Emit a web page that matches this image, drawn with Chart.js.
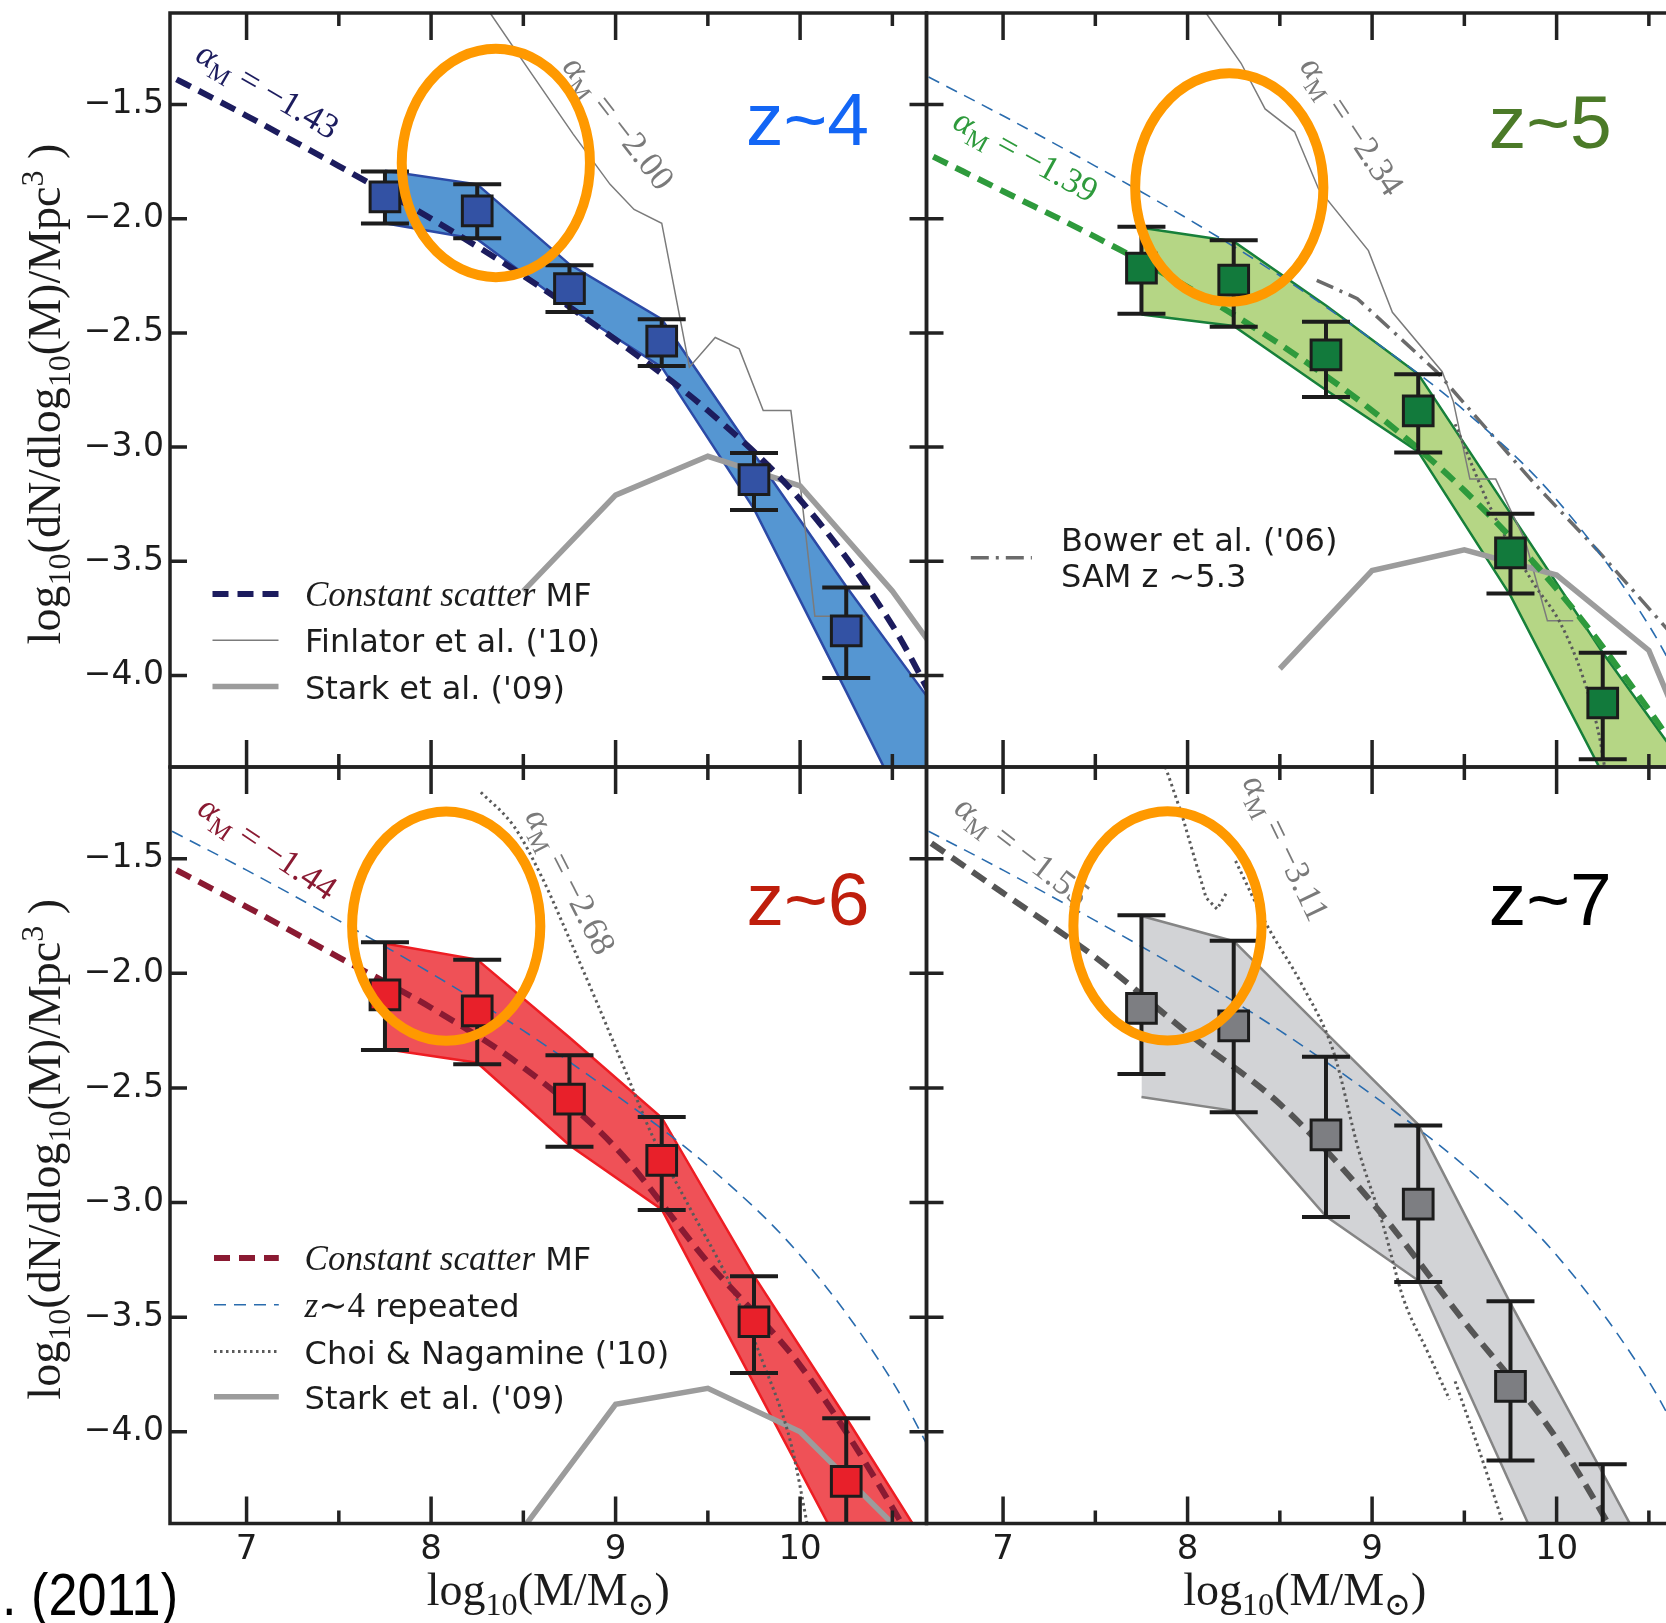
<!DOCTYPE html>
<html>
<head>
<meta charset="utf-8">
<title>Stellar mass functions z~4-7</title>
<script src="https://cdn.jsdelivr.net/npm/chart.js@4.4.1/dist/chart.umd.min.js"></script>
<style>
  html, body { margin: 0; padding: 0; background: #fff; width: 1666px; height: 1623px; overflow: hidden; }
  canvas { position: absolute; left: 0; top: 0; }
</style>
</head>
<body>
<canvas id="z4" width="1700" height="1623"></canvas>
<canvas id="z5" width="1700" height="1623"></canvas>
<canvas id="z6" width="1700" height="1623"></canvas>
<canvas id="z7" width="1700" height="1623"></canvas>
<script>
// values: log10(M/Msun) against log10 number density
const massBins = [7.75, 8.25, 8.75, 9.25, 9.75, 10.25];
const phiZ4 = [-1.905, -1.966, -2.306, -2.536, -3.142, -3.804];
const phiZ4Hi = [-1.794, -1.850, -2.204, -2.440, -3.026, -3.614];
const phiZ4Lo = [-2.021, -2.086, -2.409, -2.645, -3.275, -4.011];
const phiZ5 = [-2.217, -2.269, -2.596, -2.841, -3.463, -4.120];
const phiZ5Hi = [-2.035, -2.095, -2.451, -2.681, -3.292, -3.900];
const phiZ5Lo = [-2.416, -2.473, -2.781, -3.024, -3.641, -4.366];
const phiZ6 = [-2.094, -2.164, -2.549, -2.816, -3.520, -4.216];
const phiZ6Hi = [-1.865, -1.941, -2.357, -2.627, -3.321, -3.941];
const phiZ6Lo = [-2.334, -2.397, -2.757, -3.032, -3.744, -4.600];
const phiZ7 = [-2.153, -2.229, -2.705, -3.007, -3.802, -4.600];
const phiZ7Hi = [-1.747, -1.858, -2.364, -2.664, -3.430, -4.141];
const phiZ7Lo = [-2.439, -2.606, -3.063, -3.347, -4.125, -5.000];

// shaded ranges
const bandX = [7.75, 8.25, 8.75, 9.25, 9.75, 10.25, 10.75];
const bandZ4Hi = [-1.79, -1.85, -2.20, -2.44, -3.03, -3.61, -4.16];
const bandZ4Lo = [-2.02, -2.09, -2.39, -2.65, -3.27, -4.07, -4.88];
const bandZ5Hi = [-2.04, -2.10, -2.38, -2.68, -3.29, -3.90, -4.46];
const bandZ5Lo = [-2.42, -2.47, -2.75, -3.02, -3.65, -4.43, -5.19];
const bandZ6Hi = [-1.87, -1.94, -2.28, -2.63, -3.32, -3.94, -4.58];
const bandZ6Lo = [-2.33, -2.39, -2.75, -3.03, -3.79, -4.55, -5.31];
const bandZ7Hi = [-1.75, -1.86, -2.26, -2.66, -3.44, -4.18, -4.93];
const bandZ7Lo = [-2.54, -2.60, -3.06, -3.34, -4.23, -5.12, -6.00];

// constant scatter mass functions
const mfX = [6.5, 7.0, 7.5, 8.0, 8.5, 9.0, 9.5, 10.0, 10.5, 10.75];
const mfZ4 = [-1.34, -1.55, -1.77, -2.00, -2.25, -2.53, -2.84, -3.23, -3.78, -4.15];
const mfZ5 = [-1.68, -1.88, -2.08, -2.30, -2.55, -2.84, -3.19, -3.62, -4.15, -4.45];
const mfZ6 = [-1.50, -1.71, -1.93, -2.15, -2.41, -2.76, -3.26, -3.71, -4.33, -4.70];
const mfZ7 = [-1.37, -1.65, -1.93, -2.26, -2.57, -3.00, -3.52, -4.03, -4.72, -5.10];

// model curves
const starkX = [8.5, 9.0, 9.5, 10.0, 10.5, 11.0];
const starkZ4 = [-3.63, -3.21, -3.04, -3.17, -3.63, -4.19];
const starkZ5 = [-3.97, -3.54, -3.45, -3.56, -3.89, -4.85];
const starkZ6 = [-4.42, -3.88, -3.81, -4.00, -4.40, -4.80];
const finZ4X = [8.28, 8.32, 8.48, 8.77, 8.97, 9.10, 9.25, 9.40, 9.54, 9.67, 9.80, 9.95, 10.00, 10.08, 10.35];
const finZ4Y = [-1.05, -1.10, -1.29, -1.63, -1.85, -1.96, -2.02, -2.65, -2.52, -2.57, -2.84, -2.84, -3.16, -3.74, -3.74];
const finZ5X = [8.06, 8.10, 8.29, 8.42, 8.58, 8.71, 8.98, 9.11, 9.38, 9.44, 9.53, 9.67, 9.83, 9.95, 10.09];
const finZ5Y = [-1.05, -1.10, -1.32, -1.52, -1.62, -1.87, -2.14, -2.41, -2.67, -2.80, -3.14, -3.14, -3.41, -3.76, -3.76];
const choiZ5X = [9.45, 9.65, 9.87, 10.02, 10.14, 10.23, 10.27];
const choiZ5Y = [-2.90, -3.28, -3.59, -3.77, -4.00, -4.26, -4.45];
const choiZ6X = [8.27, 8.45, 8.60, 8.75, 8.90, 9.05, 9.20, 9.40, 9.60, 9.80, 9.95, 10.05];
const choiZ6Y = [-1.21, -1.36, -1.58, -1.85, -2.13, -2.42, -2.71, -3.02, -3.32, -3.70, -4.05, -4.45];
const choiZ7aX = [7.88, 7.97, 8.10, 8.16, 8.21];
const choiZ7aY = [-1.10, -1.31, -1.67, -1.72, -1.65];
const choiZ7bX = [8.26, 8.43, 8.62, 8.79, 8.93, 9.06, 9.17, 9.30, 9.42];
const choiZ7bY = [-1.51, -1.79, -2.05, -2.34, -2.78, -3.10, -3.42, -3.65, -3.86];
const choiZ7cX = [9.45, 9.58, 9.71, 9.76];
const choiZ7cY = [-3.78, -4.08, -4.40, -4.52];
const bowerX = [8.70, 8.92, 9.35, 9.88, 10.22, 10.80];
const bowerY = [-2.27, -2.35, -2.67, -3.16, -3.45, -3.98];

// highlighted regions (centre x, centre y) and half-axes in data units
const ringZ4 = [8.351, -1.756];
const ringZ5 = [8.226, -1.864];
const ringZ6 = [8.082, -1.794];
const ringZ7 = [7.891, -1.793];
const ringSize = [0.51, 0.50];

const xTicks = [7, 7.5, 8, 8.5, 9, 9.5, 10, 10.5];
const yTicks = [-4, -3.5, -3, -2.5, -2, -1.5];

const W = 1700, H = 1623;
const X_MIN = 6.585, X_MAX = 10.685, Y_MIN = -4.4, Y_MAX = -1.1;
const SERIF = '"Liberation Serif", "DejaVu Serif", serif';
const SANS = '"DejaVu Sans", sans-serif';
const HELV = '"Liberation Sans", Arial, sans-serif';
const INK = '#1c1c1c';
const GRAYTXT = '#7a7a7a';

function pts(xs, ys) {
  return xs.map((x, i) => ({ x: x, y: ys[i] }));
}

function lineDs(xs, ys, color, width, dash, order, smooth) {
  return {
    data: pts(xs, ys), borderColor: color, borderWidth: width, borderDash: dash || [],
    pointRadius: 0, fill: false, tension: 0, clip: 0, order: order,
    cubicInterpolationMode: smooth ? 'monotone' : 'default', borderCapStyle: 'butt'
  };
}

function bandDs(ys, edge, fillColor, isUpper) {
  return {
    data: pts(bandX, ys), borderColor: edge, borderWidth: 2.5, pointRadius: 0,
    fill: isUpper ? '+1' : false, backgroundColor: fillColor, tension: 0, clip: 0, order: 20
  };
}

function pointDs(ys, hi, lo, color) {
  return {
    data: pts(massBins, ys), showLine: false, pointStyle: 'rect', pointRadius: 21,
    pointBackgroundColor: color, pointBorderColor: INK, pointBorderWidth: 3,
    clip: 0, order: 0, errHi: hi, errLo: lo
  };
}

// text made of runs (plain / italic / sub / sup)
function run(t, size, opt) {
  opt = opt || {};
  let s = size, dy = 0;
  if (opt.sub) { s = size * 0.7; dy = size * 0.22; }
  if (opt.sup) { s = size * 0.7; dy = -size * 0.38; }
  return { t: t, font: (opt.italic ? 'italic ' : '') + s + 'px ' + (opt.fam || SERIF), dy: dy, color: opt.color || INK };
}

function drawRuns(ctx, runs, x, y, angle, base, align) {
  ctx.save();
  ctx.translate(x, y);
  if (angle) ctx.rotate(angle * Math.PI / 180);
  ctx.textAlign = 'left';
  ctx.textBaseline = 'alphabetic';
  let total = 0;
  runs.forEach(r => { ctx.font = r.font; r.w = ctx.measureText(r.t).width; total += r.w; });
  let cx = align === 'center' ? -total / 2 : 0;
  runs.forEach(r => {
    ctx.font = r.font;
    ctx.fillStyle = r.color;
    ctx.fillText(r.t, cx, (base || 0) + r.dy);
    cx += r.w;
  });
  ctx.restore();
}

function alphaRuns(value, color) {
  const s = 35;
  return [run('α', s, { italic: true, color: color }), run('M', s, { sub: true, color: color }), run(' = ' + value, s, { color: color })];
}

function sans(t) { return run(t, 32, { fam: SANS }); }

// ---- datasets per panel ----
const NAVY = '#1c1c5e', GREEN = '#2e9a3c', WINE = '#8a1a32', DGRAY = '#555555', BLUE4 = '#2a6cae';
const STARK = '#9c9c9c', FIN = '#7b7b7b', CHOI = '#5a5a5a', BOWER = '#6b6b6b';

const mf4 = lineDs(mfX, mfZ4, NAVY, 6, [16, 9], 5, true);
const fin4 = lineDs(finZ4X, finZ4Y, FIN, 1.5, [], 7);
const stark4 = lineDs(starkX, starkZ4, STARK, 5.5, [], 6);
const ds4 = [bandDs(bandZ4Hi, '#2c4aa6', '#5596d2', true), bandDs(bandZ4Lo, '#2c4aa6', '#5596d2', false),
  stark4, fin4, mf4, pointDs(phiZ4, phiZ4Hi, phiZ4Lo, '#3352a4')];

const bower5 = lineDs(bowerX, bowerY, BOWER, 3.5, [18, 7, 3, 7], 4);
const ds5 = [bandDs(bandZ5Hi, '#17803a', '#b5d685', true), bandDs(bandZ5Lo, '#17803a', '#b5d685', false),
  lineDs(starkX, starkZ5, STARK, 5.5, [], 7), lineDs(finZ5X, finZ5Y, FIN, 1.5, [], 8),
  lineDs(choiZ5X, choiZ5Y, CHOI, 3, [2.5, 3.5], 6, true), bower5,
  lineDs(mfX, mfZ4, BLUE4, 1.6, [12, 8], 3, true), lineDs(mfX, mfZ5, GREEN, 6, [16, 9], 2, true),
  pointDs(phiZ5, phiZ5Hi, phiZ5Lo, '#127a3c')];

const mf6 = lineDs(mfX, mfZ6, WINE, 6, [16, 9], 2, true);
const rep6 = lineDs(mfX, mfZ4, BLUE4, 1.6, [12, 8], 3, true);
const choi6 = lineDs(choiZ6X, choiZ6Y, CHOI, 3, [2.5, 3.5], 6, true);
const stark6 = lineDs(starkX, starkZ6, STARK, 5.5, [], 7);
const ds6 = [bandDs(bandZ6Hi, '#ee1d23', '#ef5157', true), bandDs(bandZ6Lo, '#ee1d23', '#ef5157', false),
  stark6, choi6, rep6, mf6, pointDs(phiZ6, phiZ6Hi, phiZ6Lo, '#e8202a')];

const ds7 = [bandDs(bandZ7Hi, '#858585', '#d2d3d6', true), bandDs(bandZ7Lo, '#858585', '#d2d3d6', false),
  lineDs(choiZ7aX, choiZ7aY, CHOI, 3, [2.5, 3.5], 6), lineDs(choiZ7bX, choiZ7bY, CHOI, 3, [2.5, 3.5], 6, true),
  lineDs(choiZ7cX, choiZ7cY, CHOI, 3, [2.5, 3.5], 6, true),
  lineDs(mfX, mfZ4, BLUE4, 1.6, [12, 8], 3, true), lineDs(mfX, mfZ7, DGRAY, 6, [16, 9], 2, true),
  pointDs(phiZ7, phiZ7Hi, phiZ7Lo, '#7d7e82')];

// ---- decorations per panel (texts, legend, ring, frame) ----
const decoById = {
  z4: {
    alphas: [{ x: 7.114, y: -1.439, angle: 30.4, text: '−1.43', color: NAVY },
             { x: 9.015, y: -1.581, angle: 52.2, text: '−2.00', color: GRAYTXT }],
    label: { text: 'z~4', x: 9.707, y: -1.679, color: '#1366f5' },
    legend: { x0: 42.5, x1: 108.5, tx: 135, rows: [
      { ds: mf4, y: 581, runs: [run('Constant scatter', 35, { italic: true }), sans(' MF')] },
      { ds: fin4, y: 627.3, runs: [sans("Finlator et al. ('10)")] },
      { ds: stark4, y: 673.5, runs: [sans("Stark et al. ('09)")] }] },
    ring: ringZ4, yTitle: true
  },
  z5: {
    alphas: [{ x: 7.123, y: -1.724, angle: 28.7, text: '−1.39', color: GREEN },
             { x: 8.891, y: -1.595, angle: 56.5, text: '−2.34', color: GRAYTXT }],
    label: { text: 'z~5', x: 9.632, y: -1.691, color: '#4b7a28' },
    legend: { x0: 44.3, x1: 105.4, tx: 134.5, rows: [
      { ds: bower5, y: 544.7, ty: 538, runs: [sans("Bower et al. ('06)")] },
      { ty: 573.7, runs: [sans('SAM z \u223C5.3')] }] },
    ring: ringZ5
  },
  z6: {
    alphas: [{ x: 7.114, y: -1.453, angle: 34, text: '−1.44', color: WINE },
             { x: 8.754, y: -1.600, angle: 63, text: '−2.68', color: GRAYTXT }],
    label: { text: 'z~6', x: 9.709, y: -1.789, color: '#bf1e0c' },
    legend: { x0: 44, x1: 108.8, tx: 134.6, rows: [
      { ds: mf6, y: 491, runs: [run('Constant scatter', 35, { italic: true }), sans(' MF')] },
      { ds: rep6, y: 537.8, runs: [run('z', 35, { italic: true }), run('\u223C4', 35), sans(' repeated')] },
      { ds: choi6, y: 584.6, runs: [sans("Choi & Nagamine ('10)")] },
      { ds: stark6, y: 629.8, runs: [sans("Stark et al. ('09)")] }] },
    ring: ringZ6, yTitle: true, xTitle: true, credit: true
  },
  z7: {
    alphas: [{ x: 7.103, y: -1.466, angle: 37.4, text: '−1.55', color: GRAYTXT },
             { x: 8.532, y: -1.453, angle: 64.4, text: '−3.11', color: GRAYTXT }],
    label: { text: 'z~7', x: 9.632, y: -1.789, color: '#000000' },
    legend: null,
    ring: ringZ7, xTitle: true
  }
};

const deco = {
  id: 'deco',
  beforeDatasetDraw(chart, args) {
    const ds = chart.data.datasets[args.index];
    if (!ds.errHi) return;
    const { ctx, chartArea: a } = chart;
    const xs = chart.scales.x, ys = chart.scales.y;
    ctx.save();
    ctx.beginPath();
    ctx.rect(a.left, a.top, a.right - a.left, a.bottom - a.top);
    ctx.clip();
    ctx.strokeStyle = INK;
    ctx.lineWidth = 4;
    ds.data.forEach((p, i) => {
      const px = xs.getPixelForValue(p.x);
      const hi = ys.getPixelForValue(ds.errHi[i]);
      const lo = ys.getPixelForValue(ds.errLo[i]);
      ctx.beginPath();
      ctx.moveTo(px, hi); ctx.lineTo(px, lo);
      ctx.moveTo(px - 24, hi); ctx.lineTo(px + 24, hi);
      ctx.moveTo(px - 24, lo); ctx.lineTo(px + 24, lo);
      ctx.stroke();
    });
    ctx.restore();
  },
  afterDraw(chart) {
    const d = decoById[chart.canvas.id];
    const { ctx, chartArea: a } = chart;
    const xs = chart.scales.x, ys = chart.scales.y;

    ctx.save();
    ctx.beginPath();
    ctx.rect(a.left, a.top, a.right - a.left, a.bottom - a.top);
    ctx.clip();
    d.alphas.forEach(t => drawRuns(ctx, alphaRuns(t.text, t.color), xs.getPixelForValue(t.x), ys.getPixelForValue(t.y), t.angle, 11, 'center'));

    ctx.font = '75px ' + HELV;
    ctx.fillStyle = d.label.color;
    ctx.textAlign = 'left';
    ctx.textBaseline = 'alphabetic';
    ctx.fillText(d.label.text, xs.getPixelForValue(d.label.x), ys.getPixelForValue(d.label.y));

    if (d.legend) {
      const L = d.legend;
      L.rows.forEach(r => {
        if (r.ds) {
          ctx.save();
          ctx.strokeStyle = r.ds.borderColor;
          ctx.lineWidth = r.ds.borderWidth;
          ctx.setLineDash(r.ds.borderDash);
          ctx.beginPath();
          ctx.moveTo(a.left + L.x0, a.top + r.y);
          ctx.lineTo(a.left + L.x1, a.top + r.y);
          ctx.stroke();
          ctx.restore();
        }
        const ty = r.ty !== undefined ? r.ty : r.y + 12;
        drawRuns(ctx, r.runs, a.left + L.tx, a.top + ty, 0, 0, 'left');
      });
    }

    // highlighted region
    const cx = xs.getPixelForValue(d.ring[0]), cy = ys.getPixelForValue(d.ring[1]);
    const rx = Math.abs(xs.getPixelForValue(d.ring[0] + ringSize[0]) - cx);
    const ry = Math.abs(ys.getPixelForValue(d.ring[1] + ringSize[1]) - cy);
    ctx.strokeStyle = '#ff9900';
    ctx.lineWidth = 10;
    ctx.beginPath();
    ctx.ellipse(cx, cy, rx, ry, 0, 0, Math.PI * 2);
    ctx.stroke();
    ctx.restore();

    // frame and inward ticks
    ctx.save();
    ctx.strokeStyle = '#222';
    ctx.lineWidth = 3.5;
    ctx.strokeRect(a.left, a.top, a.right - a.left, a.bottom - a.top);
    ctx.beginPath();
    xTicks.forEach(v => {
      const px = xs.getPixelForValue(v);
      const len = Number.isInteger(v) ? 27 : 13;
      ctx.moveTo(px, a.top); ctx.lineTo(px, a.top + len);
      ctx.moveTo(px, a.bottom); ctx.lineTo(px, a.bottom - len);
    });
    yTicks.forEach(v => {
      const py = ys.getPixelForValue(v);
      ctx.moveTo(a.left, py); ctx.lineTo(a.left + 17, py);
      ctx.moveTo(a.right, py); ctx.lineTo(a.right - 17, py);
    });
    ctx.stroke();
    ctx.restore();

    // axis titles
    if (d.yTitle) {
      const s = 46;
      drawRuns(ctx, [run('log', s), run('10', s, { sub: true }), run('(dN/dlog', s), run('10', s, { sub: true }),
        run('(M)/Mpc', s), run('3', s, { sup: true }), run(' )', s)], 60, (a.top + a.bottom) / 2 + 4, -90, 0, 'center');
    }
    if (d.xTitle) {
      const s = 46;
      drawRuns(ctx, [run('log', s), run('10', s, { sub: true }), run('(M/M', s), run('\u2299', s, { sub: true }), run(')', s)],
        (a.left + a.right) / 2, a.bottom + 81.5, 0, 0, 'center');
    }
    if (d.credit) {
      ctx.save();
      ctx.translate(2, 1615);
      ctx.scale(0.87, 1);
      ctx.font = '60px ' + HELV;
      ctx.fillStyle = '#000';
      ctx.textAlign = 'left';
      ctx.textBaseline = 'alphabetic';
      ctx.fillText('. (2011)', 0, 0);
      ctx.restore();
    }
  }
};

// fixed axis boxes so that the plot areas line up exactly
const Y_BOX = 150, X_BOX = 60;

function fixBox(size) {
  return s => {
    if (s.isHorizontal()) s.height = size; else s.width = size;
    s.paddingTop = 0; s.paddingBottom = 0; s.paddingLeft = 0; s.paddingRight = 0;
  };
}

function makePanel(id, area, showX, showY, datasets) {
  const yBox = showY ? Y_BOX : 0, xBox = showX ? X_BOX : 0;
  return new Chart(document.getElementById(id), {
    type: 'line',
    data: { datasets: datasets },
    options: {
      responsive: false,
      animation: false,
      devicePixelRatio: 1,
      events: [],
      layout: { autoPadding: false, padding: { left: area.l - yBox, top: area.t, right: W - area.r, bottom: H - area.b - xBox } },
      plugins: {
        legend: { display: false },
        tooltip: { enabled: false },
        filler: { drawTime: 'beforeDatasetsDraw' }
      },
      scales: {
        x: {
          type: 'linear', min: X_MIN, max: X_MAX,
          grid: { display: false, drawTicks: false }, border: { display: false },
          afterBuildTicks: s => { s.ticks = xTicks.map(v => ({ value: v })); },
          afterFit: fixBox(xBox),
          ticks: {
            display: showX, autoSkip: false, maxRotation: 0, padding: 6, color: INK,
            font: { family: 'DejaVu Sans', size: 34 },
            callback: v => Number.isInteger(v) ? String(v) : ''
          }
        },
        y: {
          type: 'linear', min: Y_MIN, max: Y_MAX,
          grid: { display: false, drawTicks: false }, border: { display: false },
          afterBuildTicks: s => { s.ticks = yTicks.map(v => ({ value: v })); },
          afterFit: fixBox(yBox),
          ticks: {
            display: showY, autoSkip: false, padding: 6, color: INK,
            font: { family: 'DejaVu Sans', size: 33 },
            callback: v => '\u2212' + Math.abs(v).toFixed(1)
          }
        }
      }
    },
    plugins: [deco]
  });
}

makePanel('z4', { l: 170, t: 13, r: 926.5, b: 767 }, false, true, ds4);
makePanel('z5', { l: 926.5, t: 13, r: 1683, b: 767 }, false, false, ds5);
makePanel('z6', { l: 170, t: 767, r: 926.5, b: 1523.5 }, true, true, ds6);
makePanel('z7', { l: 926.5, t: 767, r: 1683, b: 1523.5 }, true, false, ds7);
</script>
</body>
</html>
